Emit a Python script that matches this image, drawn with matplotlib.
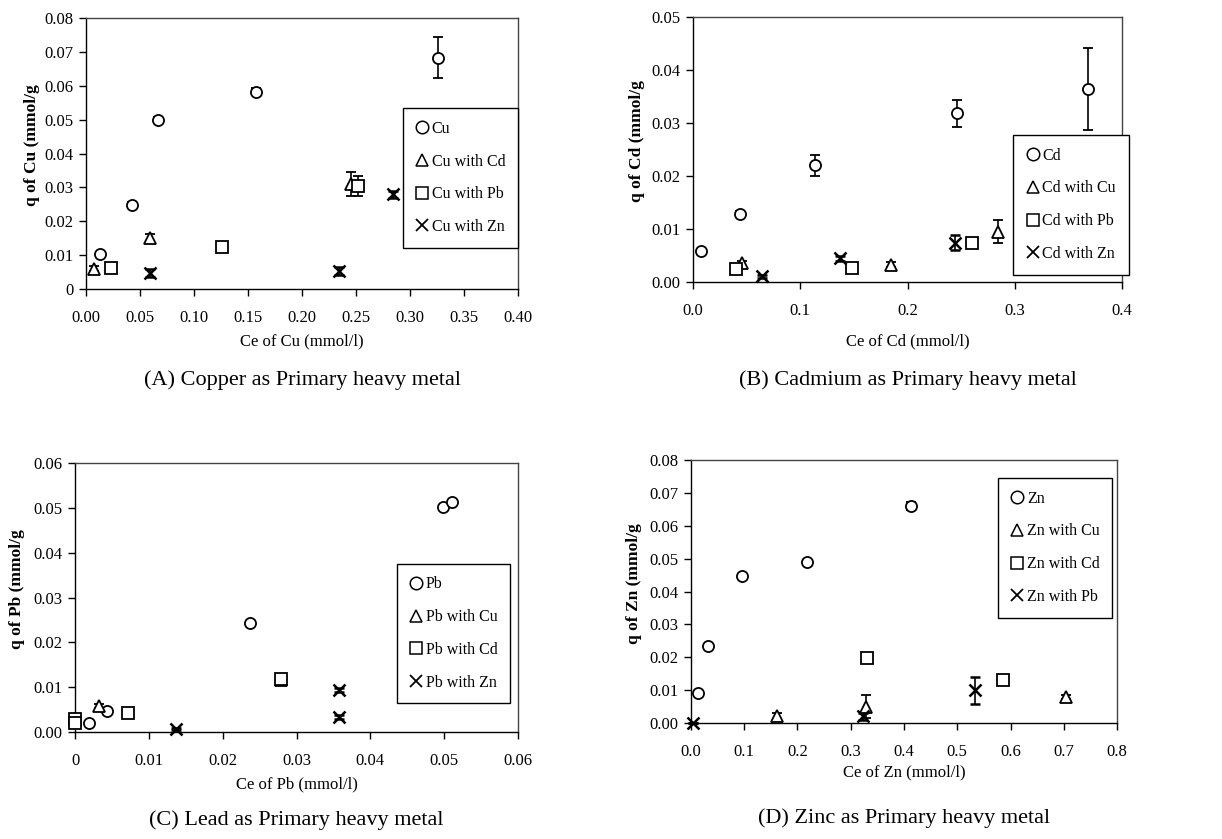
import matplotlib
matplotlib.use("Agg")
import matplotlib.pyplot as plt

plt.rcParams['font.family'] = ['Liberation Serif', 'DejaVu Serif']

# ---- (A) copper ----
a_cu_x = [0.013, 0.043, 0.067, 0.157, 0.326]
a_cu_y = [0.0102, 0.0249, 0.0500, 0.0583, 0.0683]
a_cu_e = [0.0008, 0.0008, 0.0008, 0.0010, 0.0060]
a_cd_x = [0.007, 0.059, 0.245]
a_cd_y = [0.0060, 0.0152, 0.0310]
a_cd_e = [0.0008, 0.0010, 0.0035]
a_pb_x = [0.023, 0.126, 0.252]
a_pb_y = [0.0062, 0.0123, 0.0305]
a_pb_e = [0.0008, 0.0012, 0.0030]
a_zn_x = [0.059, 0.234, 0.284]
a_zn_y = [0.0048, 0.0054, 0.0280]
a_zn_e = [0.0012, 0.0012, 0.0010]

# ---- (B) cadmium ----
b_cd_x = [0.007, 0.0435, 0.114, 0.246, 0.368]
b_cd_y = [0.0058, 0.0129, 0.0220, 0.0318, 0.0364]
b_cd_e = [0.0005, 0.0005, 0.0020, 0.0025, 0.0078]
b_cu_x = [0.0457, 0.185, 0.284]
b_cu_y = [0.0035, 0.0033, 0.0095]
b_cu_e = [0.0005, 0.0005, 0.0022]
b_pb_x = [0.040, 0.148, 0.260]
b_pb_y = [0.0025, 0.0026, 0.0074]
b_pb_e = [0.0003, 0.0005, 0.0006]
b_zn_x = [0.064, 0.137, 0.244]
b_zn_y = [0.0011, 0.0045, 0.0074]
b_zn_e = [0.0003, 0.0005, 0.0014]

# ---- (C) lead ----
c_pb_x = [0.0019, 0.0043, 0.0237, 0.0499, 0.0510]
c_pb_y = [0.0021, 0.0046, 0.0243, 0.0502, 0.0513]
c_pb_e = [0.0003, 0.0003, 0.0004, 0.0004, 0.0004]
c_cu_x = [0.0, 0.0033, 0.0279]
c_cu_y = [0.0030, 0.0058, 0.0115]
c_cu_e = [0.0003, 0.0004, 0.0004]
c_cd_x = [0.0, 0.0, 0.0072, 0.0279]
c_cd_y = [0.0029, 0.0019, 0.0043, 0.0119]
c_cd_e = [0.0003, 0.0003, 0.0004, 0.0004]
c_zn_x = [0.0137, 0.0358, 0.0358]
c_zn_y = [0.0007, 0.0094, 0.0033]
c_zn_e = [0.0003, 0.0004, 0.0004]

# ---- (D) zinc ----
d_zn_x = [0.014, 0.031, 0.096, 0.217, 0.413]
d_zn_y = [0.0092, 0.0234, 0.0448, 0.0490, 0.0661]
d_zn_e = [0.0005, 0.0006, 0.0006, 0.0006, 0.0012]
d_cu_x = [0.161, 0.328, 0.704]
d_cu_y = [0.0020, 0.0049, 0.0079]
d_cu_e = [0.0010, 0.0035, 0.0005]
d_cd_x = [0.331, 0.586]
d_cd_y = [0.0198, 0.0131]
d_cd_e = [0.0008, 0.0016]
d_pb_x = [0.003, 0.323, 0.533]
d_pb_y = [0.0, 0.0020, 0.0099]
d_pb_e = [0.0, 0.0010, 0.0040]

# ticks
a_xt = [0.0, 0.05, 0.10, 0.15, 0.20, 0.25, 0.30, 0.35, 0.40]
a_xl = ['0.00', '0.05', '0.10', '0.15', '0.20', '0.25', '0.30', '0.35', '0.40']
a_yt = [0, 0.01, 0.02, 0.03, 0.04, 0.05, 0.06, 0.07, 0.08]
a_yl = ['0', '0.01', '0.02', '0.03', '0.04', '0.05', '0.06', '0.07', '0.08']
b_xt = [0.0, 0.1, 0.2, 0.3, 0.4]
b_xl = ['0.0', '0.1', '0.2', '0.3', '0.4']
b_yt = [0, 0.01, 0.02, 0.03, 0.04, 0.05]
b_yl = ['0.00', '0.01', '0.02', '0.03', '0.04', '0.05']
c_xt = [0, 0.01, 0.02, 0.03, 0.04, 0.05, 0.06]
c_xl = ['0', '0.01', '0.02', '0.03', '0.04', '0.05', '0.06']
c_yt = [0, 0.01, 0.02, 0.03, 0.04, 0.05, 0.06]
c_yl = ['0.00', '0.01', '0.02', '0.03', '0.04', '0.05', '0.06']
d_xt = [0.0, 0.1, 0.2, 0.3, 0.4, 0.5, 0.6, 0.7, 0.8]
d_xl = ['0.0', '0.1', '0.2', '0.3', '0.4', '0.5', '0.6', '0.7', '0.8']
d_yt = [0, 0.01, 0.02, 0.03, 0.04, 0.05, 0.06, 0.07, 0.08]
d_yl = ['0.00', '0.01', '0.02', '0.03', '0.04', '0.05', '0.06', '0.07', '0.08']

W, H = 1222, 839
fig = plt.figure(figsize=(W / 100, H / 100), dpi=100)

markers = ['o', '^', 's', 'x']


def panel(box, series, labels, xt, xl, yt, yl, xlabel, ylabel, caption, leg_pos,
          xlab_y, ylab_x, cap_y):
    # box is (left, top, right, bottom) in pixels
    l, t, r, b = box
    ax = fig.add_axes([l / W, 1 - b / H, (r - l) / W, (b - t) / H])
    for i, (x, y, e) in enumerate(series):
        m = markers[i]
        if m == 'x':
            ax.errorbar(x, y, yerr=e, fmt='x', color='black', ms=8.5, mew=1.8,
                        ecolor='black', elinewidth=1.2, capsize=3.5, capthick=1.2,
                        label=labels[i], clip_on=False, zorder=3)
        else:
            ax.errorbar(x, y, yerr=e, fmt=m, mfc='white', mec='black', ms=8, mew=1.3,
                        ecolor='black', elinewidth=1.2, capsize=3.5, capthick=1.2,
                        label=labels[i], clip_on=False, zorder=3)
    ax.set_xlim(xt[0], xt[-1])
    ax.set_ylim(yt[0], yt[-1])
    ax.set_xticks(xt)
    ax.set_xticklabels(xl)
    ax.set_yticks(yt)
    ax.set_yticklabels(yl)
    ax.tick_params(direction='out', length=5, width=1, labelsize=12, colors='black')
    ax.tick_params(axis='x', pad=10)
    ax.tick_params(axis='y', pad=4)
    for s in ax.spines.values():
        s.set_color('#444444')
        s.set_linewidth(1)
    ax.spines['bottom'].set_color('black')
    ax.spines['left'].set_color('black')
    ax.set_xlabel(xlabel, fontsize=12)
    ax.xaxis.set_label_coords(0.5, (b - xlab_y) / (b - t))
    ax.set_ylabel(ylabel, fontsize=12.5, fontweight='bold')
    ax.yaxis.set_label_coords((ylab_x - l) / (r - l), 0.53)
    fig.text(((l + r) / 2) / W, 1 - cap_y / H, caption, ha='center', va='center', fontsize=16)

    # legend entries without error bars
    handles = []
    for m in markers:
        if m == 'x':
            h, = ax.plot([], [], 'x', color='black', ms=9, mew=1.3)
        else:
            h, = ax.plot([], [], m, mfc='white', mec='black', ms=9, mew=1.1)
        handles.append(h)
    leg = ax.legend(handles, labels, loc='upper left', bbox_to_anchor=leg_pos,
                    fontsize=11.5, frameon=True, fancybox=False, framealpha=1,
                    edgecolor='black', labelspacing=1.05, handlelength=0.8,
                    handletextpad=0.2, borderpad=0.8, borderaxespad=0)
    leg.get_frame().set_linewidth(1)
    return ax


panel((86, 18, 518, 289),
      [(a_cu_x, a_cu_y, a_cu_e), (a_cd_x, a_cd_y, a_cd_e), (a_pb_x, a_pb_y, a_pb_e), (a_zn_x, a_zn_y, a_zn_e)],
      ['Cu', 'Cu with Cd', 'Cu with Pb', 'Cu with Zn'],
      a_xt, a_xl, a_yt, a_yl, 'Ce of Cu (mmol/l)', 'q of Cu (mmol/g',
      '(A) Copper as Primary heavy metal', (0.734, 0.668), 333, 40, 380)

panel((693, 17, 1122, 282),
      [(b_cd_x, b_cd_y, b_cd_e), (b_cu_x, b_cu_y, b_cu_e), (b_pb_x, b_pb_y, b_pb_e), (b_zn_x, b_zn_y, b_zn_e)],
      ['Cd', 'Cd with Cu', 'Cd with Pb', 'Cd with Zn'],
      b_xt, b_xl, b_yt, b_yl, 'Ce of Cd (mmol/l)', 'q of Cd (mmol/g',
      '(B) Cadmium as Primary heavy metal', (0.747, 0.555), 333, 645, 380)

panel((75, 463, 518, 732),
      [(c_pb_x, c_pb_y, c_pb_e), (c_cu_x, c_cu_y, c_cu_e), (c_cd_x, c_cd_y, c_cd_e), (c_zn_x, c_zn_y, c_zn_e)],
      ['Pb', 'Pb with Cu', 'Pb with Cd', 'Pb with Zn'],
      c_xt, c_xl, c_yt, c_yl, 'Ce of Pb (mmol/l)', 'q of Pb (mmol/g',
      '(C) Lead as Primary heavy metal', (0.727, 0.626), 776, 25, 820)

panel((691, 460, 1117, 723),
      [(d_zn_x, d_zn_y, d_zn_e), (d_cu_x, d_cu_y, d_cu_e), (d_cd_x, d_cd_y, d_cd_e), (d_pb_x, d_pb_y, d_pb_e)],
      ['Zn', 'Zn with Cu', 'Zn with Cd', 'Zn with Pb'],
      d_xt, d_xl, d_yt, d_yl, 'Ce of Zn (mmol/l)', 'q of Zn (mmol/g',
      '(D) Zinc as Primary heavy metal', (0.721, 0.932), 764, 642, 818)

fig.savefig('out.png', dpi=100)
